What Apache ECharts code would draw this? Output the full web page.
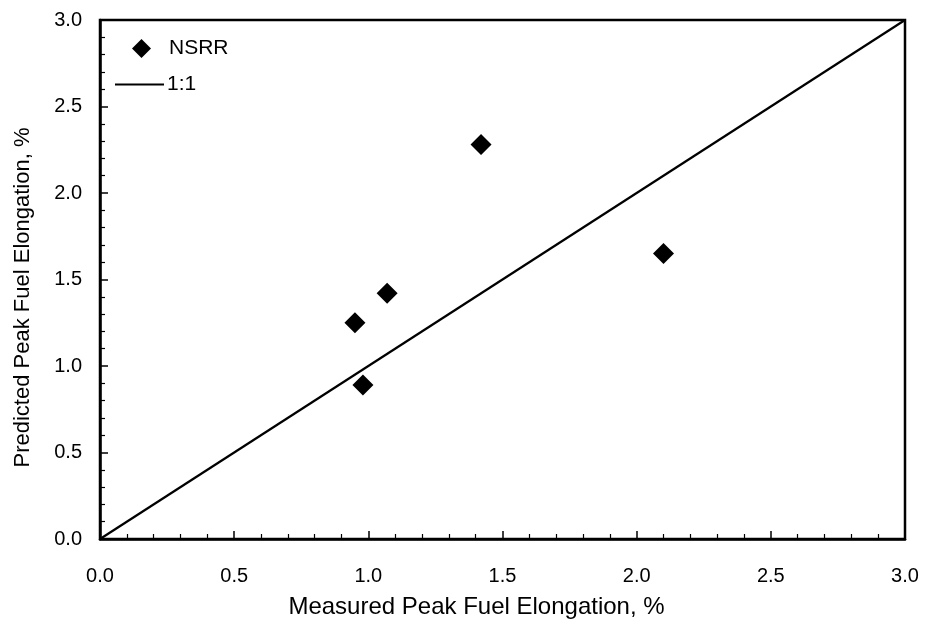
<!DOCTYPE html>
<html>
<head>
<meta charset="utf-8">
<script src="https://cdn.jsdelivr.net/npm/echarts@6/dist/echarts.min.js"></script>
<style>
  html, body { margin: 0; padding: 0; background: #fff; }
  #chart { width: 925px; height: 631px; }
</style>
</head>
<body>
<div id="chart"></div>
<script>
// Measured vs predicted peak fuel elongation (%), NSRR tests
const measured  = [0.95, 1.07, 0.98, 1.42, 2.10];
const predicted = [1.25, 1.42, 0.89, 2.28, 1.65];
// 1:1 reference line end points
const oneToOneX = [0, 3];
const oneToOneY = [0, 3];
const axisMin = 0, axisMax = 3, axisStep = 0.5;

const font = 'Liberation Sans, Arial, Helvetica, sans-serif';
const nsrrData = measured.map((m, i) => [m, predicted[i]]);
const lineData = oneToOneX.map((x, i) => [x, oneToOneY[i]]);

const axisCommon = {
  type: 'value',
  min: axisMin,
  max: axisMax,
  interval: axisStep,
  axisLine: { show: true, lineStyle: { color: '#000', width: 2.5 } },
  axisTick: { show: true, inside: true, length: 8, lineStyle: { color: '#000', width: 1.5 } },
  minorTick: { show: true, splitNumber: 5, length: 5, lineStyle: { color: '#000', width: 1.2 } },
  splitLine: { show: false },
  minorSplitLine: { show: false },
  nameLocation: 'middle',
  axisLabel: {
    fontFamily: font, fontSize: 20, color: '#000',
    formatter: v => v.toFixed(1)
  }
};

const chart = echarts.init(document.getElementById('chart'), null, { renderer: 'canvas' });
chart.setOption({
  backgroundColor: '#fff',
  animation: false,
  grid: {
    left: 100, right: 20, top: 20, bottom: 92,
    show: true, borderColor: '#000', borderWidth: 2.5, backgroundColor: 'transparent'
  },
  xAxis: Object.assign({}, axisCommon, {
    name: 'Measured Peak Fuel Elongation, %',
    nameGap: 56,
    // titles sit a little off the axis centre
    nameTextStyle: { fontFamily: font, fontSize: 24, color: '#000', padding: [0, 52, 0, 0] },
    axisLabel: Object.assign({}, axisCommon.axisLabel, { margin: 27 })
  }),
  yAxis: Object.assign({}, axisCommon, {
    name: 'Predicted Peak Fuel Elongation, %',
    nameGap: 66,
    nameTextStyle: { fontFamily: font, fontSize: 22, color: '#000', padding: [0, 36, 0, 0] },
    axisLabel: Object.assign({}, axisCommon.axisLabel, { margin: 18 })
  }),
  legend: [
    {
      data: [{ name: 'NSRR', icon: 'diamond' }],
      left: 127, top: 33,
      itemWidth: 19, itemHeight: 19, itemGap: 0,
      textStyle: { fontFamily: font, fontSize: 21, color: '#000', padding: [0, 0, 0, 13] },
      selectedMode: false
    },
    {
      data: [{ name: '1:1', icon: 'path://M0,0 L50,0 L50,2 L0,2 Z' }],
      left: 110, top: 69,
      itemWidth: 49, itemHeight: 2, itemGap: 0,
      textStyle: { fontFamily: font, fontSize: 21, color: '#000', padding: [0, 0, 0, -2] },
      selectedMode: false
    }
  ],
  series: [
    {
      name: '1:1',
      type: 'line',
      data: lineData,
      symbol: 'none',
      lineStyle: { color: '#000', width: 2.2 },
      itemStyle: { color: '#000' },
      z: 2
    },
    {
      name: 'NSRR',
      type: 'scatter',
      data: nsrrData,
      symbol: 'diamond',
      symbolSize: 21,
      itemStyle: { color: '#000', opacity: 1 },
      z: 3
    }
  ]
});
</script>
</body>
</html>
